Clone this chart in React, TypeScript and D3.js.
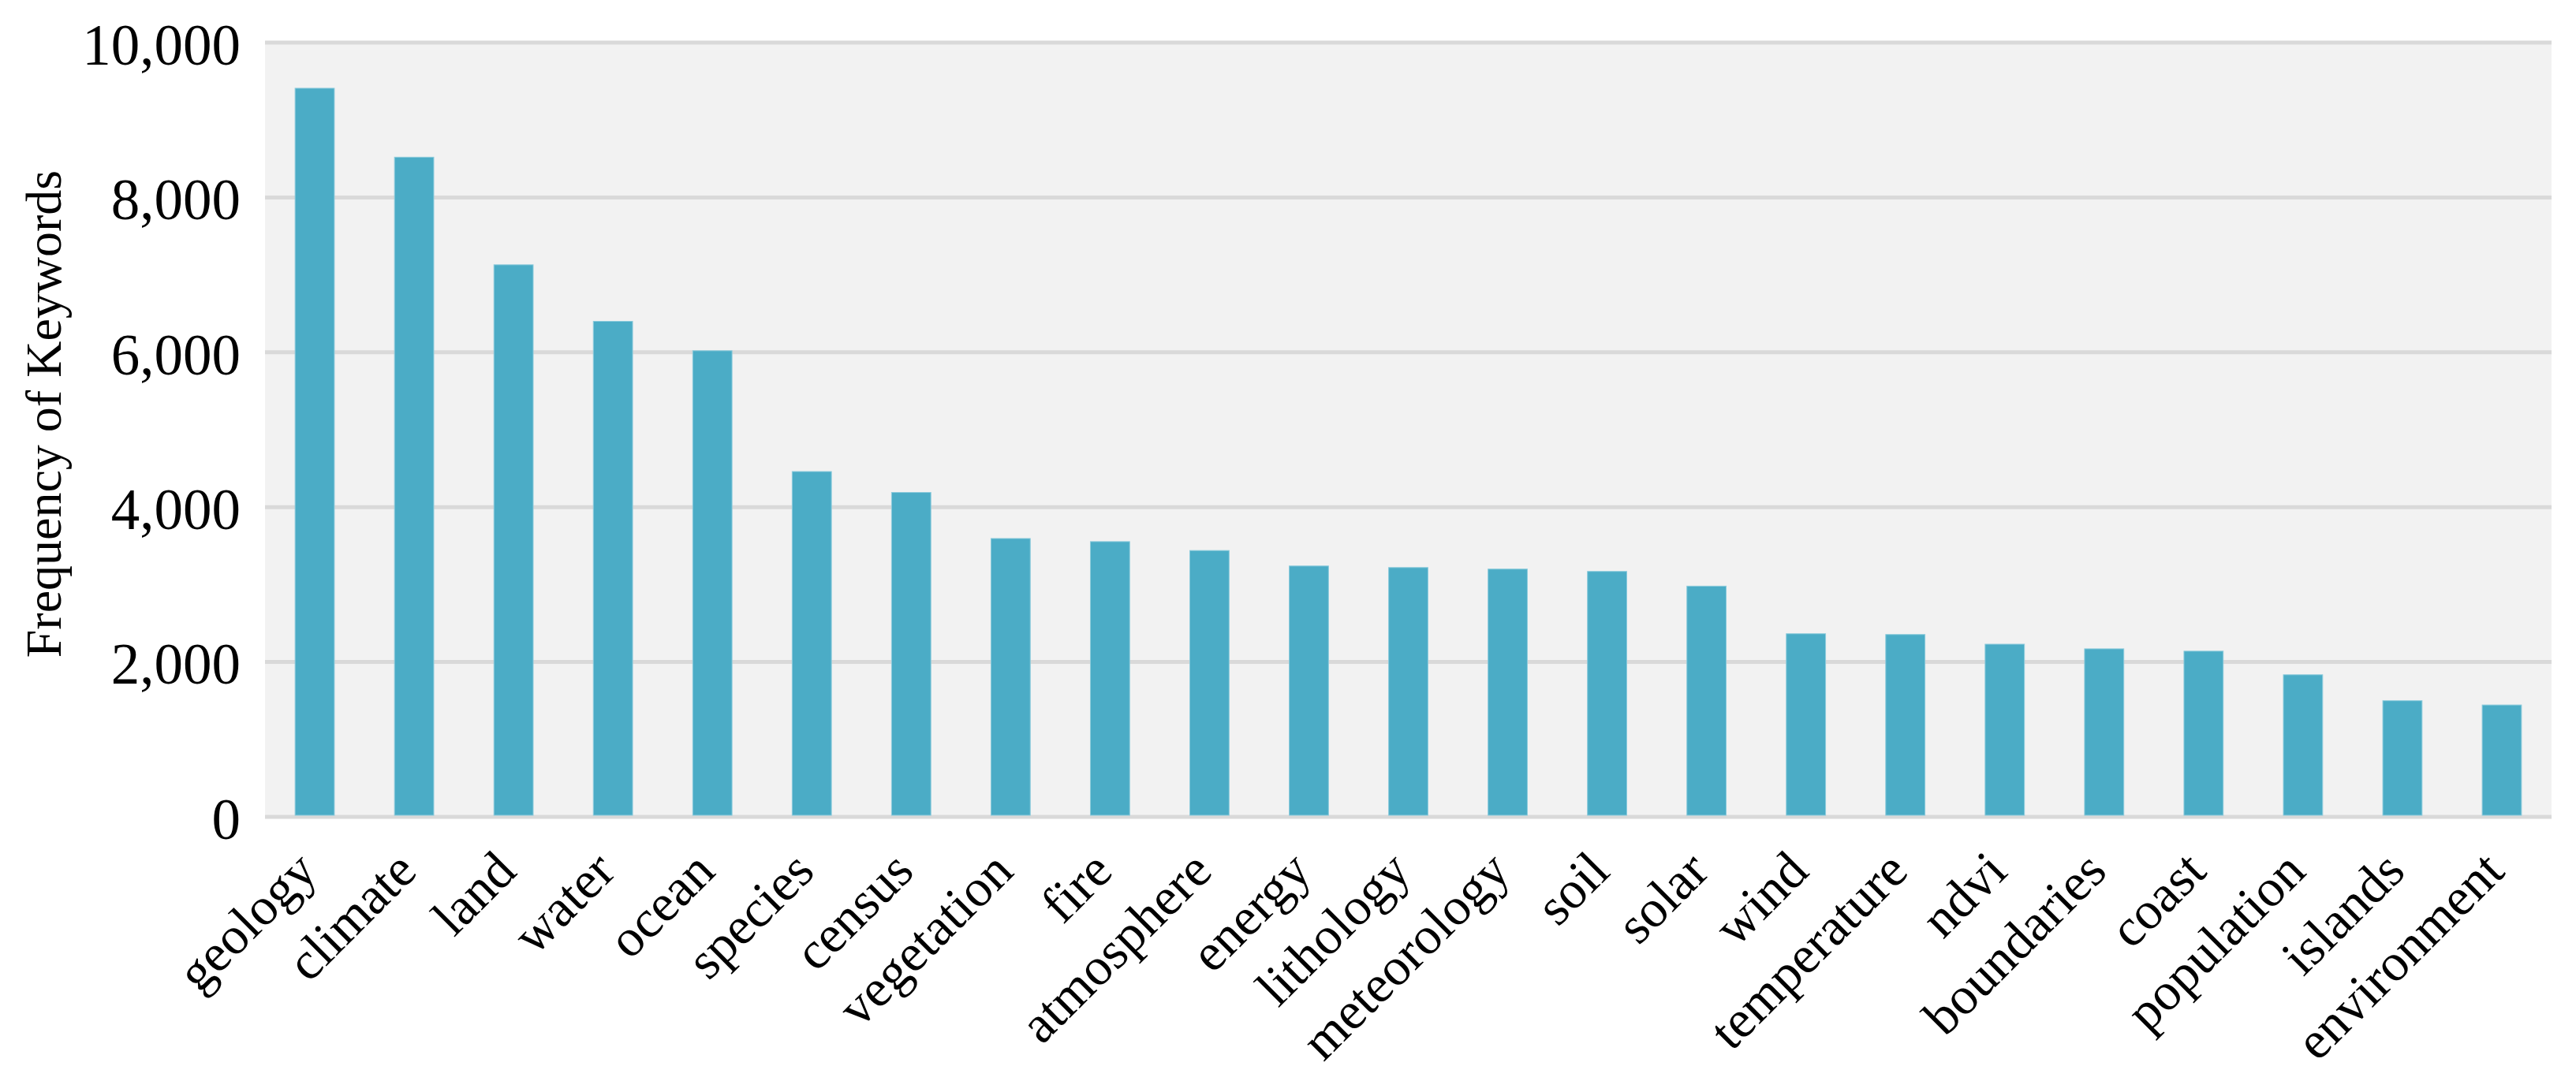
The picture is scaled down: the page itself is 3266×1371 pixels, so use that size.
import React, { useRef, useEffect } from 'react';
import * as d3 from 'd3';

// keyword categories (x axis)
const keywords = [
  'geology', 'climate', 'land', 'water', 'ocean', 'species', 'census',
  'vegetation', 'fire', 'atmosphere', 'energy', 'lithology', 'meteorology',
  'soil', 'solar', 'wind', 'temperature', 'ndvi', 'boundaries', 'coast',
  'population', 'islands', 'environment',
];

// frequency of each keyword
const frequencies = [
  9410, 8520, 7130, 6400, 6020, 4460, 4190,
  3595, 3555, 3440, 3240, 3220, 3200,
  3170, 2980, 2365, 2355, 2230, 2170, 2140,
  1835, 1500, 1445,
];

const yTicks = [0, 2000, 4000, 6000, 8000, 10000];

const BarChart = () => {
  const svgRef = useRef<SVGSVGElement>(null);

  useEffect(() => {
    const svg = d3.select(svgRef.current);
    svg.selectAll('*').remove();

    const width = 3266;
    const height = 1371;
    const margin = { top: 54, right: 31, bottom: 335, left: 336 };
    const plotBottom = height - margin.bottom;
    const font = '"Liberation Serif", "Times New Roman", serif';

    const xScale = d3.scaleBand()
      .domain(keywords)
      .range([margin.left, width - margin.right])
      .paddingInner(0.605)
      .paddingOuter(0.3025);

    const yScale = d3.scaleLinear()
      .domain([0, 10000])
      .range([plotBottom, margin.top]);

    // plot background
    svg.append('rect')
      .attr('x', margin.left)
      .attr('y', margin.top)
      .attr('width', width - margin.left - margin.right)
      .attr('height', plotBottom - margin.top)
      .attr('fill', '#f2f2f2');

    // grid lines
    svg.append('g')
      .selectAll('line')
      .data(yTicks)
      .enter()
      .append('line')
      .attr('x1', margin.left)
      .attr('x2', width - margin.right)
      .attr('y1', d => yScale(d))
      .attr('y2', d => yScale(d))
      .attr('stroke', '#d9d9d9')
      .attr('stroke-width', 5);

    // bars
    svg.append('g')
      .selectAll('rect')
      .data(frequencies)
      .enter()
      .append('rect')
      .attr('x', (d, i) => xScale(keywords[i]) as number)
      .attr('y', d => yScale(d))
      .attr('width', xScale.bandwidth())
      .attr('height', d => plotBottom - 2 - yScale(d))
      .attr('fill', '#4bacc6')
      .attr('stroke', '#8ccbdc')
      .attr('stroke-width', 1);

    // y axis tick labels
    svg.append('g')
      .selectAll('text')
      .data(yTicks)
      .enter()
      .append('text')
      .attr('x', 305)
      .attr('y', d => yScale(d))
      .attr('dy', '0.38em')
      .attr('text-anchor', 'end')
      .attr('font-family', font)
      .attr('font-size', 73)
      .attr('fill', '#000')
      .text(d => d3.format(',')(d));

    // x axis labels, rotated
    svg.append('g')
      .selectAll('text')
      .data(keywords)
      .enter()
      .append('text')
      .attr('transform', d => {
        const cx = (xScale(d) as number) + xScale.bandwidth() / 2;
        return `translate(${cx + 6},${plotBottom + 72}) rotate(-45)`;
      })
      .attr('text-anchor', 'end')
      .attr('font-family', font)
      .attr('font-size', 67)
      .attr('fill', '#000')
      .text(d => d);

    // y axis title
    svg.append('text')
      .attr('transform', `translate(77,525) rotate(-90)`)
      .attr('text-anchor', 'middle')
      .attr('font-family', font)
      .attr('font-size', 64)
      .attr('fill', '#000')
      .text('Frequency of Keywords');
  }, []);

  return <svg ref={svgRef} width={3266} height={1371} style={{ display: 'block', background: '#fff' }} />;
};

export default function App() {
  return (
    <div>
      <style>{'body { margin: 0; }'}</style>
      <BarChart />
    </div>
  );
}
